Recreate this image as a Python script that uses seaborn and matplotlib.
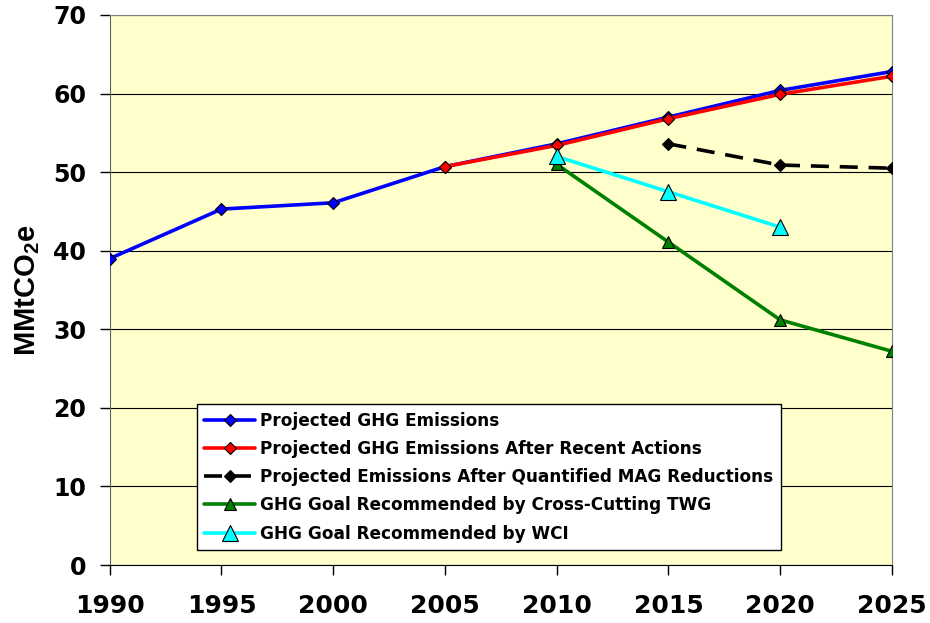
import pandas as pd
import seaborn as sns
import matplotlib.pyplot as plt

# valores (MMtCO2e)
years_all = [1990, 1995, 2000, 2005, 2010, 2015, 2020, 2025]
projected = [39.0, 45.3, 46.1, 50.7, 53.6, 57.0, 60.4, 62.8]

years_recent = [2005, 2010, 2015, 2020, 2025]
recent_actions = [50.7, 53.4, 56.8, 59.9, 62.2]

years_mag = [2015, 2020, 2025]
mag_reductions = [53.6, 50.9, 50.5]

years_twg = [2010, 2015, 2020, 2025]
twg_goal = [51.0, 41.1, 31.2, 27.2]

years_wci = [2010, 2015, 2020]
wci_goal = [52.0, 47.5, 43.0]

labels = [
    "Projected GHG Emissions",
    "Projected GHG Emissions After Recent Actions",
    "Projected Emissions After Quantified MAG Reductions",
    "GHG Goal Recommended by Cross-Cutting TWG",
    "GHG Goal Recommended by WCI",
]

series = [
    (years_all, projected, labels[0], "#0000FF", "D", 6, "-"),
    (years_recent, recent_actions, labels[1], "#FF0000", "D", 6, "-"),
    (years_mag, mag_reductions, labels[2], "black", "D", 6, (0, (5, 3))),
    (years_twg, twg_goal, labels[3], "#008000", "^", 8, "-"),
    (years_wci, wci_goal, labels[4], "#00FFFF", "^", 11, "-"),
]

sns.set_style("white")
plt.rcParams["font.family"] = ["DejaVu Sans"]

fig, ax = plt.subplots(figsize=(9.3, 6.23), dpi=100)
fig.subplots_adjust(left=0.118, right=0.959, top=0.976, bottom=0.093)
ax.set_facecolor("#FFFFCC")

for xs, ys, lab, col, mk, ms, ls in series:
    df = pd.DataFrame({"year": xs, "value": ys})
    sns.lineplot(data=df, x="year", y="value", ax=ax, color=col, lw=2.6,
                 linestyle=ls, marker=mk, markersize=ms,
                 markeredgecolor="black", markeredgewidth=0.8,
                 markerfacecolor=col, label=lab, zorder=3)

ax.set_xlim(1990, 2025)
ax.set_ylim(0, 70)
ax.set_xticks(range(1990, 2026, 5))
ax.set_yticks(range(0, 71, 10))
ax.yaxis.grid(True, color="black", lw=0.8)
ax.set_axisbelow(True)

ax.tick_params(axis="both", direction="out", length=7, width=1, color="black",
               labelsize=17, labelcolor="black", bottom=True, left=True)
ax.tick_params(axis="x", pad=14, labelsize=18)
ax.tick_params(axis="y", pad=10)
for t in ax.get_xticklabels() + ax.get_yticklabels():
    t.set_fontweight("bold")

ax.set_xlabel("")
ax.set_ylabel("MMtCO$_\\mathregular{2}$e", fontsize=21, fontweight="bold",
              family="Liberation Sans", color="black", labelpad=8)

for side in ["top", "right"]:
    ax.spines[side].set_color("#808080")
ax.spines["left"].set_color("#606060")
ax.spines["bottom"].set_color("black")

leg = ax.legend(loc="lower left", bbox_to_anchor=(0.111, 0.027), frameon=True,
                fancybox=False, edgecolor="black", framealpha=1,
                facecolor="white", prop={"weight": "bold", "size": 12.2},
                handlelength=3.0, handletextpad=0.3, labelspacing=0.6,
                borderpad=0.45, borderaxespad=0)
leg.get_frame().set_linewidth(1)
for txt in leg.get_texts():
    txt.set_color("black")

plt.savefig("out.png", dpi=100)
